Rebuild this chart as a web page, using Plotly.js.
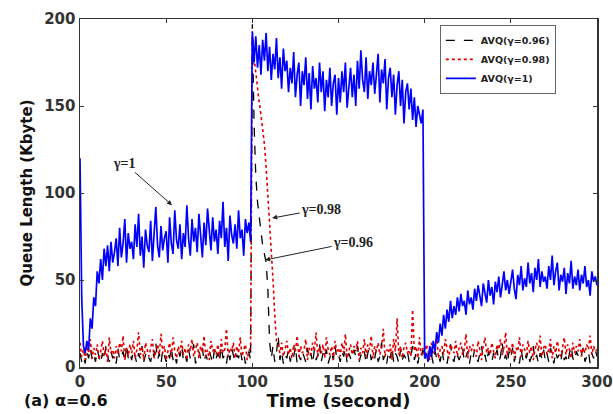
<!DOCTYPE html>
<html>
<head>
<meta charset="utf-8">
<script src="https://cdn.plot.ly/plotly-3.0.1.min.js"></script>
<style>html,body{margin:0;padding:0;background:#fff;}#chart{width:613px;height:414px;}</style>
</head>
<body>
<div id="chart"></div>
<script>
// Time axis: one sample per second, 0..300 s
const timeStart = 0;
const timeStep = 1;

// AVQ(γ=1) queue length (Kbyte)
const queueGamma100 = [
  120,40,12,8,15,10,28,22,40,35,
  55,48,62,50,68,58,70,55,72,60,
  66,74,58,80,63,71,85,60,77,68,
  72,62,82,69,88,64,75,57,79,70,
  66,84,61,76,92,70,63,81,67,74,
  78,60,86,71,65,90,73,68,82,62,
  77,69,93,74,64,85,72,80,66,88,
  75,63,83,70,91,77,67,86,72,79,
  65,84,74,95,69,80,61,87,76,71,
  82,68,90,74,79,64,85,77,83,72,
  193,175,190,172,185,168,188,176,192,170,
  184,165,180,171,189,166,178,160,183,170,
  176,158,172,163,181,155,168,175,150,170,
  162,178,154,169,148,173,160,166,152,175,
  158,170,147,165,155,172,150,163,168,145,
  166,152,170,158,175,149,163,172,155,168,
  150,176,160,182,165,158,178,154,170,162,
  175,157,168,180,152,171,163,177,148,166,
  172,155,168,145,162,170,150,165,140,158,
  163,148,160,142,155,138,150,145,140,148,
  5,8,3,12,6,15,9,20,14,25,
  18,30,22,33,26,38,28,35,30,40,
  32,42,35,38,30,44,36,40,33,45,
  38,47,40,35,48,42,37,50,41,46,
  36,49,43,52,40,47,55,44,50,42,
  48,56,45,39,53,47,58,44,51,46,
  60,48,54,43,57,50,62,46,55,49,
  52,45,58,50,64,47,55,60,44,53,
  49,57,42,54,48,61,45,52,47,56,
  44,53,48,58,46,50,41,55,49,52,
  47
];

// AVQ(γ=0.98) queue length (Kbyte)
const queueGamma098 = [
  14,6,10,4,12,8,16,5,11,7,
  13,4,9,15,6,11,3,17,8,10,
  5,12,7,14,9,18,4,11,6,13,
  8,15,5,10,20,7,12,4,14,9,
  6,11,16,5,9,13,7,19,8,12,
  4,10,14,6,17,9,5,12,8,15,
  7,11,4,13,9,16,6,10,14,5,
  12,8,18,6,10,4,15,9,11,7,
  13,5,16,8,10,22,6,11,9,14,
  5,12,8,17,6,10,13,4,9,11,
  190,178,168,160,152,145,138,128,115,100,
  85,70,50,30,15,12,8,14,6,10,
  15,7,11,5,13,9,18,6,12,8,
  10,16,4,11,7,14,9,20,6,12,
  8,13,5,17,10,7,12,4,15,9,
  11,6,14,8,19,5,10,13,7,12,
  9,15,4,11,8,16,6,13,10,18,
  5,12,9,14,7,11,22,6,10,8,
  13,4,16,9,28,7,12,5,11,14,
  8,10,6,33,9,12,5,17,7,11,
  6,13,9,4,14,8,11,18,5,10,
  12,7,16,9,5,13,10,8,15,6,
  11,14,7,10,19,5,12,9,13,8,
  6,15,10,4,12,17,8,11,7,14,
  9,5,13,10,16,7,11,20,6,12,
  8,14,5,11,9,17,6,13,10,7,
  15,8,12,4,10,14,9,18,6,11,
  13,7,10,16,5,12,8,15,9,6,
  11,17,7,13,10,5,14,8,12,9,
  16,6,11,8,13,10,18,7,12,9,
  10
];

// AVQ(γ=0.96) queue length (Kbyte)
const queueGamma096 = [
  8,3,6,2,9,5,11,4,7,3,
  10,5,2,8,4,12,6,3,9,5,
  7,2,11,4,6,9,3,13,5,8,
  4,10,6,2,8,5,12,3,7,9,
  5,3,9,6,14,4,8,2,10,6,
  3,8,5,11,4,7,2,9,6,12,
  4,7,3,10,5,8,13,2,6,9,
  5,11,3,7,4,9,6,2,10,5,
  8,3,12,5,7,2,9,4,11,6,
  3,7,5,10,4,8,2,6,9,4,
  197,140,110,95,88,78,70,64,60,45,
  15,5,12,3,8,18,4,9,2,7,
  5,10,3,8,6,12,2,7,4,9,
  6,3,11,5,8,2,10,4,7,13,
  3,8,5,10,2,6,9,4,12,5,
  7,3,9,6,11,2,8,5,4,10,
  6,12,3,7,5,9,2,8,11,4,
  8,5,10,3,6,14,4,7,2,9,
  5,11,3,8,6,2,10,4,7,5,
  9,3,6,12,4,8,2,7,5,10,
  4,8,3,11,6,2,9,5,7,3,
  10,4,6,2,8,13,5,3,9,6,
  4,7,11,3,6,9,2,8,5,10,
  6,3,8,12,4,7,2,9,5,3,
  8,5,10,3,6,14,4,7,2,9,
  5,11,3,7,6,2,10,4,8,5,
  9,3,6,12,4,7,2,8,5,10,
  4,8,3,11,6,2,9,5,7,3,
  10,4,6,2,8,12,5,3,9,6,
  4,7,11,3,6,9,2,8,5,10,
  6
];

const seriesNames = ['AVQ(γ=0.96)', 'AVQ(γ=0.98)', 'AVQ(γ=1)'];
const xTickVals = [0, 50, 100, 150, 200, 250, 300];
const yTickVals = [0, 50, 100, 150, 200];

// annotation labels: [text, arrow tip x, tip y, text x, text y]
const curveLabels = [
  ['γ=1', 53.4, 93, 26, 117],
  ['γ=0.98', 111.5, 85.6, 140, 90.8],
  ['γ=0.96', 107.4, 61.5, 158.5, 71.8]
];

const times = queueGamma100.map((_, i) => timeStart + i * timeStep);

const traces = [
  {x: times, y: queueGamma096, name: seriesNames[0], type: 'scatter', mode: 'lines',
   line: {color: '#000000', width: 1.3, dash: 'dash'}},
  {x: times, y: queueGamma098, name: seriesNames[1], type: 'scatter', mode: 'lines',
   line: {color: '#e00000', width: 1.6, dash: 'dot'}},
  {x: times, y: queueGamma100, name: seriesNames[2], type: 'scatter', mode: 'lines',
   line: {color: '#0000ff', width: 1.7}}
];

const tickFont = {family: 'DejaVu Sans', size: 15, color: '#333333', weight: 'bold'};

const layout = {
  width: 613, height: 414,
  margin: {l: 80, r: 16, t: 19, b: 47, pad: 0},
  paper_bgcolor: '#ffffff', plot_bgcolor: '#ffffff',
  showlegend: true,
  legend: {
    x: 0.696, y: 0.983, xanchor: 'left', yanchor: 'top',
    bgcolor: '#ffffff', bordercolor: '#666666', borderwidth: 1,
    font: {family: 'DejaVu Sans', size: 9.5, color: '#222222', weight: 'bold'},
    tracegroupgap: 0
  },
  xaxis: {
    range: [0, 300], tickvals: xTickVals, ticktext: xTickVals.map(String),
    showgrid: false, zeroline: false, showline: true, linecolor: '#333333', linewidth: 1.5,
    mirror: 'allticks', ticks: 'inside', ticklen: 4, tickcolor: '#333333',
    tickfont: tickFont,
    title: {text: 'Time (second)', font: {family: 'DejaVu Sans', size: 18, color: '#111111', weight: 'bold'}, standoff: 4}
  },
  yaxis: {
    range: [0, 200], tickvals: yTickVals, ticktext: yTickVals.map(String),
    showgrid: false, zeroline: false, showline: true, linecolor: '#333333', linewidth: 1.5,
    mirror: 'allticks', ticks: 'inside', ticklen: 4, tickcolor: '#333333',
    tickfont: tickFont,
    title: {text: 'Queue Length (Kbyte)', font: {family: 'DejaVu Sans', size: 15, color: '#111111', weight: 'bold'}, standoff: 8}
  },
  annotations: curveLabels.map(c => ({
    text: c[0], x: c[1], y: c[2], ax: c[3], ay: c[4], xref: 'x', yref: 'y', axref: 'x', ayref: 'y',
    showarrow: true, arrowhead: 2, arrowsize: 1, arrowwidth: 1, arrowcolor: '#222222', standoff: 0,
    font: {family: 'Liberation Serif', size: 14, color: '#222222', weight: 'bold'}
  })).concat([{
    text: '(a) α=0.6', xref: 'paper', yref: 'paper', x: -0.112, y: -0.095, xanchor: 'left', yanchor: 'middle',
    showarrow: false, font: {family: 'DejaVu Sans', size: 16, color: '#111111', weight: 'bold'}
  }])
};

Plotly.newPlot('chart', traces, layout, {displayModeBar: false, staticPlot: true});
</script>
</body>
</html>
